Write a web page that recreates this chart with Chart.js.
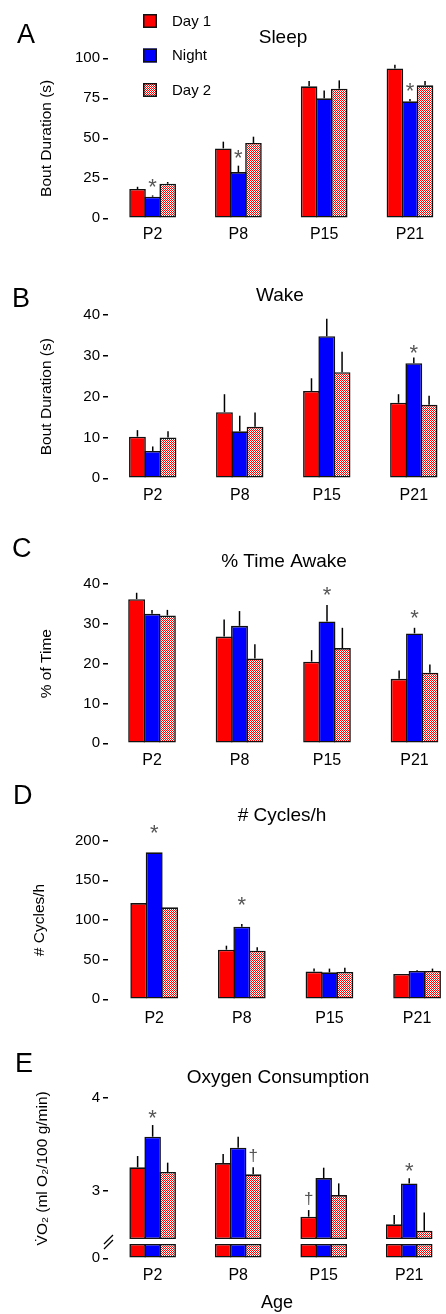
<!DOCTYPE html>
<html>
<head>
<meta charset="utf-8">
<script src="https://cdn.jsdelivr.net/npm/chart.js@4.4.1/dist/chart.umd.min.js"></script>
<style>
  html, body { margin: 0; padding: 0; background: #fff; }
  #wrap { position: relative; width: 446px; height: 1314px; overflow: hidden; }
  #wrap canvas { position: absolute; left: 0; }
</style>
</head>
<body>
<div id="wrap">
  <canvas id="cA" width="446" height="260" style="top:0px"></canvas>
  <canvas id="cB" width="446" height="260" style="top:260px"></canvas>
  <canvas id="cC" width="446" height="260" style="top:520px"></canvas>
  <canvas id="cD" width="446" height="260" style="top:780px"></canvas>
  <canvas id="cE" width="446" height="274" style="top:1040px"></canvas>
</div>
<script>
const ages = ['P2', 'P8', 'P15', 'P21'];
const seriesNames = ['Day 1', 'Night', 'Day 2'];

// A - sleep bout duration (s): means and SEM
const sleepDay1 = [18.3, 43.7, 82.5, 93.7];
const sleepNight = [13.5, 28.9, 75.0, 73.1];
const sleepDay2 = [21.6, 47.1, 81.0, 83.1];
const sleepDay1Sem = [1.4, 4.2, 3.3, 2.3];
const sleepNightSem = [0.8, 4.0, 4.8, 1.5];
const sleepDay2Sem = [1.1, 3.9, 5.2, 2.7];
const sleepTicks = [0, 25, 50, 75, 100];

// B - wake bout duration (s)
const wakeDay1 = [10.2, 16.2, 21.4, 18.5];
const wakeNight = [6.7, 11.5, 34.8, 28.2];
const wakeDay2 = [10.0, 12.6, 26.0, 18.0];
const wakeDay1Sem = [1.6, 4.4, 3.1, 2.1];
const wakeNightSem = [1.1, 3.8, 4.3, 1.4];
const wakeDay2Sem = [1.5, 3.5, 5.0, 2.2];
const wakeTicks = [0, 10, 20, 30, 40];

// C - % time awake
const awakeDay1 = [36.2, 26.8, 20.5, 16.2];
const awakeNight = [32.5, 29.5, 30.6, 27.6];
const awakeDay2 = [32.1, 21.3, 23.9, 17.7];
const awakeDay1Sem = [1.6, 4.3, 2.9, 2.1];
const awakeNightSem = [1.0, 3.7, 4.1, 1.4];
const awakeDay2Sem = [1.4, 3.6, 5.1, 2.1];
const awakeTicks = [0, 10, 20, 30, 40];

// D - cycles per hour
const cyclesDay1 = [121.4, 62.6, 34.9, 31.9];
const cyclesNight = [185.3, 91.6, 34.0, 35.7];
const cyclesDay2 = [116.0, 61.3, 34.5, 35.7];
const cyclesDay1Sem = [0, 5.0, 3.8, 0.5];
const cyclesNightSem = [0, 3.4, 4.7, 0.9];
const cyclesDay2Sem = [0, 4.2, 5.4, 3.0];
const cyclesTicks = [0, 50, 100, 150, 200];

// E - oxygen consumption (ml O2/100 g/min), broken axis
const vo2Day1 = [3.254, 3.300, 2.725, 2.643];
const vo2Night = [3.582, 3.464, 3.139, 3.082];
const vo2Day2 = [3.204, 3.179, 2.957, 2.575];
const vo2Day1Sem = [0.121, 0.096, 0.071, 0.100];
const vo2NightSem = [0.125, 0.118, 0.111, 0.054];
const vo2Day2Sem = [0.100, 0.075, 0.125, 0.196];
const vo2UpperTicks = [3, 4];
const vo2LowerTicks = [0];
const vo2BreakAt = 2.486;   // bottom of the upper segment
const vo2StubTop = 0.74;    // height of the stub below the break (lower axis runs 0..1)

// significance marks: [age index, series index, symbol]
const sleepMarks = [[0, 1, '*'], [1, 1, '*'], [3, 1, '*']];
const wakeMarks = [[3, 1, '*']];
const awakeMarks = [[2, 1, '*'], [3, 1, '*']];
const cyclesMarks = [[0, 1, '*'], [1, 1, '*']];
const vo2Marks = [[0, 1, '*'], [1, 2, '\u2020'], [2, 0, '\u2020'], [3, 1, '*']];

const FONT = "'Liberation Sans', Arial, Helvetica, sans-serif";
const EDGE = '#111111';

function checker() {
  const c = document.createElement('canvas');
  c.width = 2; c.height = 2;
  const g = c.getContext('2d');
  g.fillStyle = '#ffffff';
  g.fillRect(0, 0, 2, 2);
  g.fillStyle = '#ff0000';
  g.fillRect(0, 0, 1, 1);
  g.fillRect(1, 1, 1, 1);
  return g.createPattern(c, 'repeat');
}
const fills = ['#ff0000', '#0000ff', checker()];

function barSets(values, sems, extra) {
  return values.map((vals, k) => Object.assign({
    label: seriesNames[k],
    data: vals.map((v, i) => ({ x: i, y: v })),
    sem: sems ? sems[k] : null,
    backgroundColor: fills[k],
    borderColor: EDGE,
    borderWidth: 1.6,
    borderSkipped: false,
    barPercentage: 1.1,
    categoryPercentage: 0.527,
    stack: 's' + k
  }, extra || {}));
}

function errTopPx(chart, k, i) {
  const ds = chart.data.datasets[k];
  const meta = chart.getDatasetMeta(k);
  const ys = chart.scales[meta.yAxisID];
  const bar = meta.data[i];
  const v = ds.data[i].y + (ds.sem ? ds.sem[i] : 0);
  return Math.min(bar.y, ys.getPixelForValue(v));
}

const errorBars = {
  id: 'errorBars',
  afterDatasetsDraw(chart) {
    const ctx = chart.ctx;
    ctx.save();
    ctx.strokeStyle = '#000';
    ctx.lineWidth = 1.5;
    chart.data.datasets.forEach((ds, k) => {
      if (!ds.sem) return;
      chart.getDatasetMeta(k).data.forEach((bar, i) => {
        const top = errTopPx(chart, k, i);
        if (top >= bar.y - 0.5) return;
        ctx.beginPath();
        ctx.moveTo(bar.x, bar.y);
        ctx.lineTo(bar.x, top);
        ctx.stroke();
      });
    });
    ctx.restore();
  }
};

const sigMarks = {
  id: 'sigMarks',
  afterDatasetsDraw(chart, args, o) {
    if (!o.marks) return;
    const ctx = chart.ctx;
    ctx.save();
    ctx.fillStyle = '#555';
    ctx.textAlign = 'center';
    ctx.textBaseline = 'middle';
    o.marks.forEach(([i, k, sym]) => {
      const bar = chart.getDatasetMeta(k).data[i];
      const star = sym === '*';
      ctx.font = (star ? '22px ' : '17px ') + FONT;
      const y = errTopPx(chart, k, i) - o.gap + (star ? 5 : 0);
      ctx.fillText(sym, bar.x, y);
    });
    ctx.restore();
  }
};

const panelText = {
  id: 'panelText',
  afterDraw(chart, args, o) {
    const ctx = chart.ctx;
    ctx.save();
    ctx.fillStyle = '#000';
    ctx.textBaseline = 'alphabetic';
    ctx.textAlign = 'left';
    ctx.font = '27px ' + FONT;
    ctx.fillText(o.letter, o.letterX, o.letterY);
    ctx.textAlign = 'center';
    ctx.font = '19px ' + FONT;
    ctx.fillText(o.title, o.titleX, o.titleY);
    if (o.legend) {
      ctx.textAlign = 'left';
      ctx.textBaseline = 'middle';
      ctx.font = '15px ' + FONT;
      chart.data.datasets.slice(0, 3).forEach((ds, k) => {
        const y = 14 + k * 34.5;
        ctx.fillStyle = ds.backgroundColor;
        ctx.fillRect(143, y, 14, 14);
        ctx.strokeStyle = EDGE;
        ctx.lineWidth = 1.5;
        ctx.strokeRect(143.75, y + 0.75, 12.5, 12.5);
        ctx.fillStyle = '#000';
        ctx.fillText(ds.label, 172, y + 7.5);
      });
    }
    if (o.axisBreak) {
      const up = chart.scales.yUp;
      const x0 = chart.chartArea.left - 4;
      const yb = up.bottom;
      ctx.strokeStyle = '#000';
      ctx.lineWidth = 1.3;
      ctx.beginPath();
      ctx.moveTo(x0, yb + 5); ctx.lineTo(x0 + 9, yb - 4);
      ctx.moveTo(x0, yb + 10); ctx.lineTo(x0 + 9, yb + 1);
      ctx.stroke();
    }
    ctx.restore();
  }
};

function valueAxis(min, max, ticks, extra) {
  return Object.assign({
    type: 'linear',
    min: min,
    max: max,
    stacked: false,
    afterFit: s => { s.width = 108; },
    afterBuildTicks: s => { s.ticks = ticks.map(v => ({ value: v })); },
    border: { display: false },
    grid: { drawOnChartArea: false, drawTicks: true, tickLength: 5, color: '#000', lineWidth: 1.5 },
    ticks: { padding: 3, color: '#000', font: { family: FONT, size: 15 } }
  }, extra || {});
}

function yTitle(text, centerX) {
  return {
    display: true, text: text, color: '#000',
    font: { family: FONT, size: 15.5 },
    padding: { top: centerX - 9.3, bottom: 0 }
  };
}

function ageAxis(p) {
  return {
    type: 'linear',
    min: p.xMin,
    max: p.xMax,
    offset: false,
    afterFit: s => { s.height = p.axisH; },
    afterBuildTicks: s => { s.ticks = ages.map((a, i) => ({ value: i })); },
    border: { display: false },
    grid: { display: false, drawTicks: false },
    ticks: {
      autoSkip: false, maxRotation: 0, padding: p.tickPad, color: '#000',
      font: { family: FONT, size: 16 },
      callback: v => ages[v]
    },
    title: p.xTitle ? {
      display: true, text: p.xTitle, color: '#000',
      font: { family: FONT, size: 18 }, padding: { top: 0, bottom: 0 }
    } : { display: false }
  };
}

function makeChart(p, datasets, yScales) {
  const scales = Object.assign({ x: ageAxis(p) }, yScales);
  return new Chart(document.getElementById(p.canvas), {
    type: 'bar',
    data: { datasets: datasets },
    options: {
      responsive: false,
      animation: false,
      layout: { padding: { top: p.plotTop, left: 0, right: 0, bottom: 0 } },
      scales: scales,
      plugins: {
        legend: { display: false },
        tooltip: { enabled: false },
        title: { display: false },
        panelText: p.text,
        sigMarks: { marks: p.marks, gap: p.markGap }
      }
    },
    plugins: [errorBars, sigMarks, panelText]
  });
}

// A
makeChart({
  canvas: 'cA', plotTop: 58.3, axisH: 41.7, xMin: -0.52, xMax: 3.42, tickPad: 7,
  marks: sleepMarks, markGap: 12,
  text: { letter: 'A', letterX: 17, letterY: 43, title: 'Sleep', titleX: 283, titleY: 42.7, legend: true }
}, barSets([sleepDay1, sleepNight, sleepDay2], [sleepDay1Sem, sleepNightSem, sleepDay2Sem]), {
  y: valueAxis(0, 100, sleepTicks, { title: yTitle('Bout Duration (s)', 47) })
});

// B
makeChart({
  canvas: 'cB', plotTop: 55, axisH: 41.7, xMin: -0.514, xMax: 3.37, tickPad: 8,
  marks: wakeMarks, markGap: 9,
  text: { letter: 'B', letterX: 12, letterY: 46.7, title: 'Wake', titleX: 280, titleY: 40.7 }
}, barSets([wakeDay1, wakeNight, wakeDay2], [wakeDay1Sem, wakeNightSem, wakeDay2Sem]), {
  y: valueAxis(0, 40, wakeTicks, { title: yTitle('Bout Duration (s)', 47) })
});

// C
makeChart({
  canvas: 'cC', plotTop: 64, axisH: 36.7, xMin: -0.503, xMax: 3.36, tickPad: 8,
  marks: awakeMarks, markGap: 14,
  text: { letter: 'C', letterX: 12, letterY: 36.7, title: '% Time Awake', titleX: 284, titleY: 46.7 }
}, barSets([awakeDay1, awakeNight, awakeDay2], [awakeDay1Sem, awakeNightSem, awakeDay2Sem]), {
  y: valueAxis(0, 40, awakeTicks, { title: yTitle('% of Time', 47) })
});

// D
makeChart({
  canvas: 'cD', plotTop: 60.7, axisH: 40.7, xMin: -0.527, xMax: 3.33, tickPad: 10,
  marks: cyclesMarks, markGap: 23,
  text: { letter: 'D', letterX: 13, letterY: 24, title: '# Cycles/h', titleX: 282, titleY: 40.7 }
}, barSets([cyclesDay1, cyclesNight, cyclesDay2], [cyclesDay1Sem, cyclesNightSem, cyclesDay2Sem]), {
  y: valueAxis(0, 200, cyclesTicks, { title: yTitle('# Cycles/h', 40) })
});

// E - broken value axis built from two stacked scales
const vo2Upper = barSets([vo2Day1, vo2Night, vo2Day2], [vo2Day1Sem, vo2NightSem, vo2Day2Sem],
  { yAxisID: 'yUp', base: vo2BreakAt });
const vo2Lower = barSets([vo2Day1, vo2Night, vo2Day2].map(vals => vals.map(v => Math.min(v, vo2StubTop))), null,
  { yAxisID: 'yLow' });
makeChart({
  canvas: 'cE', plotTop: 57.7, axisH: 55.7, xMin: -0.522, xMax: 3.43, tickPad: 8, xTitle: 'Age',
  marks: vo2Marks, markGap: 11,
  text: { letter: 'E', letterX: 15, letterY: 31.7, title: 'Oxygen Consumption', titleX: 278, titleY: 42.7, axisBreak: true }
}, vo2Upper.concat(vo2Lower), {
  yLow: valueAxis(0, 1, vo2LowerTicks, { stack: 'vo2', stackWeight: 19.3 }),
  yUp: valueAxis(vo2BreakAt, 4, vo2UpperTicks, {
    stack: 'vo2', stackWeight: 141.3,
    title: yTitle('V\u0307O\u2082 (ml O\u2082/100 g/min)', 43)
  })
});
</script>
</body>
</html>
